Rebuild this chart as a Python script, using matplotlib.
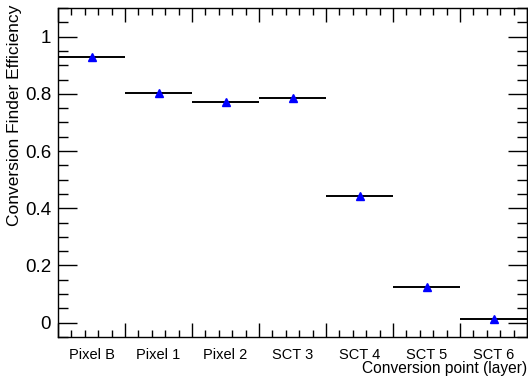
import matplotlib
matplotlib.use("Agg")
import matplotlib.pyplot as plt
import numpy as np

plt.rcParams['font.family'] = ['Liberation Sans', 'DejaVu Sans']

categories = ["Pixel B", "Pixel 1", "Pixel 2", "SCT 3", "SCT 4", "SCT 5", "SCT 6"]
efficiency = [0.927, 0.802, 0.770, 0.787, 0.443, 0.124, 0.012]

fig = plt.figure(figsize=(5.28, 3.81), dpi=100)
ax = fig.add_axes([58/528, 44/381, 469/528, 329/381])

n = len(categories)
centers = np.arange(n) + 0.5
ax.errorbar(centers, efficiency, xerr=0.5, fmt='^', color='blue', mec='blue',
            ecolor='black', elinewidth=1.4, capsize=0, markersize=6)

ax.set_xlim(0, n)
ax.set_ylim(-0.05, 1.1)

ax.set_xticks(np.arange(0, n + 1))
ax.set_xticks(np.arange(0, n + 0.01, 0.2), minor=True)
ax.set_xticklabels([])
ax.set_yticks([0, 0.2, 0.4, 0.6, 0.8, 1.0])
ax.set_yticklabels(["0", "0.2", "0.4", "0.6", "0.8", "1"])
ax.set_yticks(np.arange(-0.05, 1.101, 0.05), minor=True)

ax.tick_params(axis='x', which='major', direction='in', length=10, width=1,
               top=True, bottom=True)
ax.tick_params(axis='x', which='minor', direction='in', length=5, width=1,
               top=True, bottom=True)
ax.tick_params(axis='y', which='major', direction='in', length=14, width=1,
               left=True, right=True, labelsize=13.5, pad=5)
ax.tick_params(axis='y', which='minor', direction='in', length=7, width=1,
               left=True, right=True)

for s in ax.spines.values():
    s.set_linewidth(1)

sec = ax.secondary_xaxis('bottom')
sec.set_xticks(centers, categories)
sec.tick_params(length=0, labelsize=10.5, pad=8)
sec.spines['bottom'].set_visible(False)

ax.set_xlabel("Conversion point (layer)", loc='right', fontsize=11.2)
ax.xaxis.set_label_coords(1.0, -0.072)
ax.set_ylabel("Conversion Finder Efficiency", loc='top', fontsize=12.5)
ax.yaxis.set_label_coords(-0.076, 1.01)
fig.savefig("out.png", dpi=100)
